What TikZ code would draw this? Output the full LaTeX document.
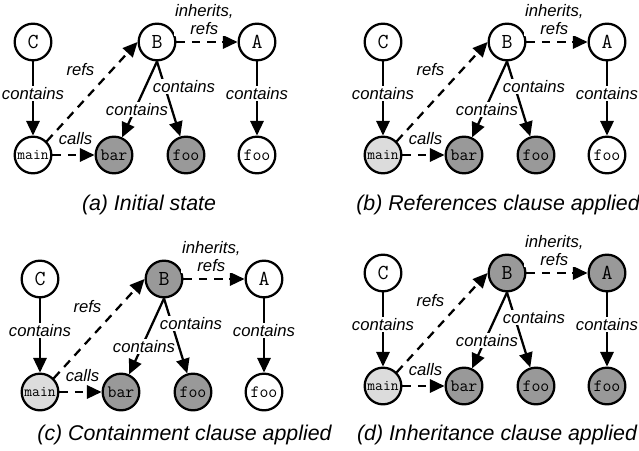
\documentclass[tikz,border=0pt]{standalone}
\usepackage{fontspec}
\setmainfont{Liberation Sans}
\usetikzlibrary{positioning,arrows.meta}
\definecolor{darkgrey}{HTML}{999999}
\definecolor{lightgrey}{HTML}{DCDCDC}

\begin{document}
\begin{tikzpicture}[x=0.75pt,y=-0.75pt,
  elem/.style={circle, draw=black, line width=1.7pt, minimum size=27.5pt, inner sep=0pt},
  cls/.style={elem, font=\ttfamily\fontsize{16}{16}\selectfont},
  fn/.style={elem, font=\ttfamily\fontsize{13}{13}\selectfont},
  lbl/.style={fill=white, inner sep=1pt, font=\itshape\fontsize{12.5}{13.5}\selectfont},
  link/.style={line width=1.7pt, -{Triangle[length=11pt,width=10pt]}},
  dep/.style={link, dash pattern=on 6.5pt off 5pt},
  caption/.style={anchor=base, font=\itshape\fontsize{16}{16}\selectfont}]
\useasboundingbox (0,0) rectangle (639,450);
% one panel per state: name/shift/fills of main, B, A/caption
\foreach \p/\dx/\dy/\fm/\fb/\fa/\cx/\cy/\cap in {
  a/0/0/white/white/white/149/210/{(a) Initial state},
  b/350/0/lightgrey/white/white/498/210/{(b) References clause applied},
  c/7/237/lightgrey/darkgrey/white/184.5/440/{(c) Containment clause applied},
  d/350/231/lightgrey/darkgrey/darkgrey/497/440/{(d) Inheritance clause applied}}
{
  \begin{scope}[shift={(\dx,\dy)}]
  \node[cls, fill=white] (\p-C) at (33,42) {C};
  \node[cls, fill=\fb] (\p-B) at (157,42) {B};
  \node[cls, fill=\fa] (\p-A) at (257,42) {A};
  \node[fn, fill=\fm, font=\ttfamily\fontsize{11.4}{11.4}\selectfont] (\p-main) at (33,155) {main};
  \node[fn, fill=darkgrey] (\p-bar) at (114,155) {bar};
  \node[fn, fill=darkgrey] (\p-foo) at (186,155) {foo};
  \node[fn, fill=\fa] (\p-fooA) at (257,155) {foo};

  \draw[link] (\p-C) -- node[lbl, pos=0.43] {contains} (\p-main);
  \draw[link] (\p-A) -- node[lbl, pos=0.43] {contains} (\p-fooA);
  \draw[link] (\p-B.south) -- node[lbl, pos=0.63, xshift=1.5pt] {contains} (\p-bar);
  \draw[link] (\p-B.south) -- node[lbl, pos=0.33, xshift=14.5pt] {contains} (\p-foo);
  \draw[dep] (\p-main.north east) -- node[lbl, pos=0.72, left=11.5pt] {refs} (\p-B.west);
  \draw[dep] (\p-main) -- node[lbl, above=6pt, xshift=1.5pt] {calls} (\p-bar);
  \draw[dep] (\p-B) -- node[lbl, above=3.5pt, xshift=-2pt, align=center] {inherits,\\refs} (\p-A);
  \end{scope}
  \node[caption] (\p-cap) at (\cx,\cy) {\cap};
}
\end{tikzpicture}
\end{document}
